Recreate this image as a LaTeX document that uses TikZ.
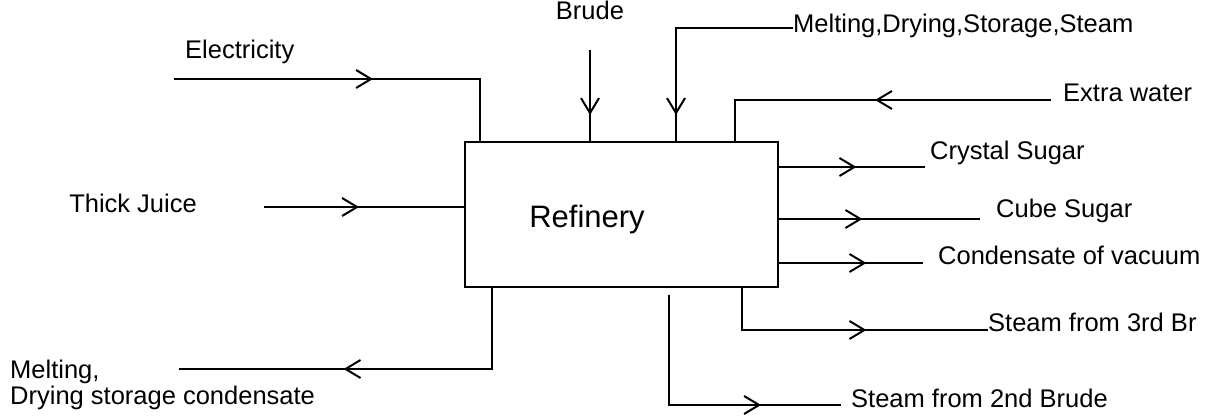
\documentclass[tikz,border=0pt]{standalone}
\usepackage{fontspec}
\setmainfont{Liberation Sans}
\usetikzlibrary{positioning, arrows.meta, decorations.markings}
\tikzset{
MyLineStyle/.style  ={line width=2.8pt},
MyArrowStyle/.style ={postaction={decorate},
                      decoration={markings,
                                  mark=at position #1 with {\arrow{Straight Barb[length=15pt, width=18pt, line width=2pt]}}}},
MyTextStyle/.style  ={every node/.style={inner sep=0pt,
                                         anchor=base west,
                                         font=\fontsize{25.5}{29}\selectfont}},
MyBoxStyle/.style   ={draw, line width=2.8pt, minimum width=313pt, minimum height=145pt},
}

\begin{document}
\begin{tikzpicture}[x=1pt, y=-1pt]
\useasboundingbox (0,0) rectangle (1218,419);
\node[MyBoxStyle] (refinery) at (621.5,214.5) {};
\node[inner sep=0pt, anchor=base, font=\fontsize{31}{35}\selectfont] (reflabel) at (587,228) {Refinery};

\begin{scope}[MyTextStyle]  % 标签
\node (elec) at (185,59) {Electricity};
\node[anchor=base east] (juice) at (197,213) {Thick Juice};
\node[anchor=base] (brude) at (590,20) {Brude};
\node (mdss) at (793,33) {Melting,Drying,Storage,Steam};
\node (water) at (1063,102) {Extra water};
\node (crystal) at (930,160) {Crystal Sugar};
\node (cube) at (996,218) {Cube Sugar};
\node (vacuum) at (938,265) {Condensate of vacuum};
\node (steamC) at (988,332) {Steam from 3rd Br};
\node (steamB) at (851,407) {Steam from 2nd Brude};
\node (melt) at (10,378) {Melting,};
\node (dry) at (10,405) {Drying storage condensate};
\end{scope}

\begin{scope}[MyLineStyle]  % 输入
\coordinate (elecIn) at (174,79);
\coordinate (elecBend) at (480,79);
\draw[MyArrowStyle=199pt] (elecIn) -- (elecBend) -- (elecBend |- refinery.north);
\coordinate (juiceIn) at (264,207);
\draw[MyArrowStyle=95pt] (juiceIn) -- (juiceIn -| refinery.west);
\coordinate (brudeIn) at (590,50);
\draw[MyArrowStyle=65pt] (brudeIn) -- (brudeIn |- refinery.north);
\coordinate (mdssIn) at (793,28);
\coordinate (mdssBend) at (676,28);
\draw[MyArrowStyle=204pt] (mdssIn) -- (mdssBend) -- (mdssBend |- refinery.north);
\coordinate (waterIn) at (1051,100);
\coordinate (waterBend) at (735,100);
\draw[MyArrowStyle=176pt] (waterIn) -- (waterBend) -- (waterBend |- refinery.north);
\end{scope}

\begin{scope}[MyLineStyle]  % 输出
\coordinate (crystalOut) at (925,167);
\draw[MyArrowStyle=77pt] (crystalOut -| refinery.east) -- (crystalOut);
\coordinate (cubeOut) at (980,219);
\draw[MyArrowStyle=83pt] (cubeOut -| refinery.east) -- (cubeOut);
\coordinate (vacuumOut) at (923,263);
\draw[MyArrowStyle=87pt] (vacuumOut -| refinery.east) -- (vacuumOut);
\coordinate (steamCBend) at (742,330);
\coordinate (steamCOut) at (988,330);
\draw[MyArrowStyle=166pt] (steamCBend |- refinery.south) -- (steamCBend) -- (steamCOut);
\coordinate (steamBTop) at (669,295);
\coordinate (steamBBend) at (669,405);
\coordinate (steamBOut) at (841,405);
\draw[MyArrowStyle=202pt] (steamBTop) -- (steamBBend) -- (steamBOut);
\coordinate (meltBend) at (492,369);
\coordinate (meltOut) at (179,369);
\draw[MyArrowStyle=229pt] (meltBend |- refinery.south) -- (meltBend) -- (meltOut);
\end{scope}
\end{tikzpicture}
\end{document}
